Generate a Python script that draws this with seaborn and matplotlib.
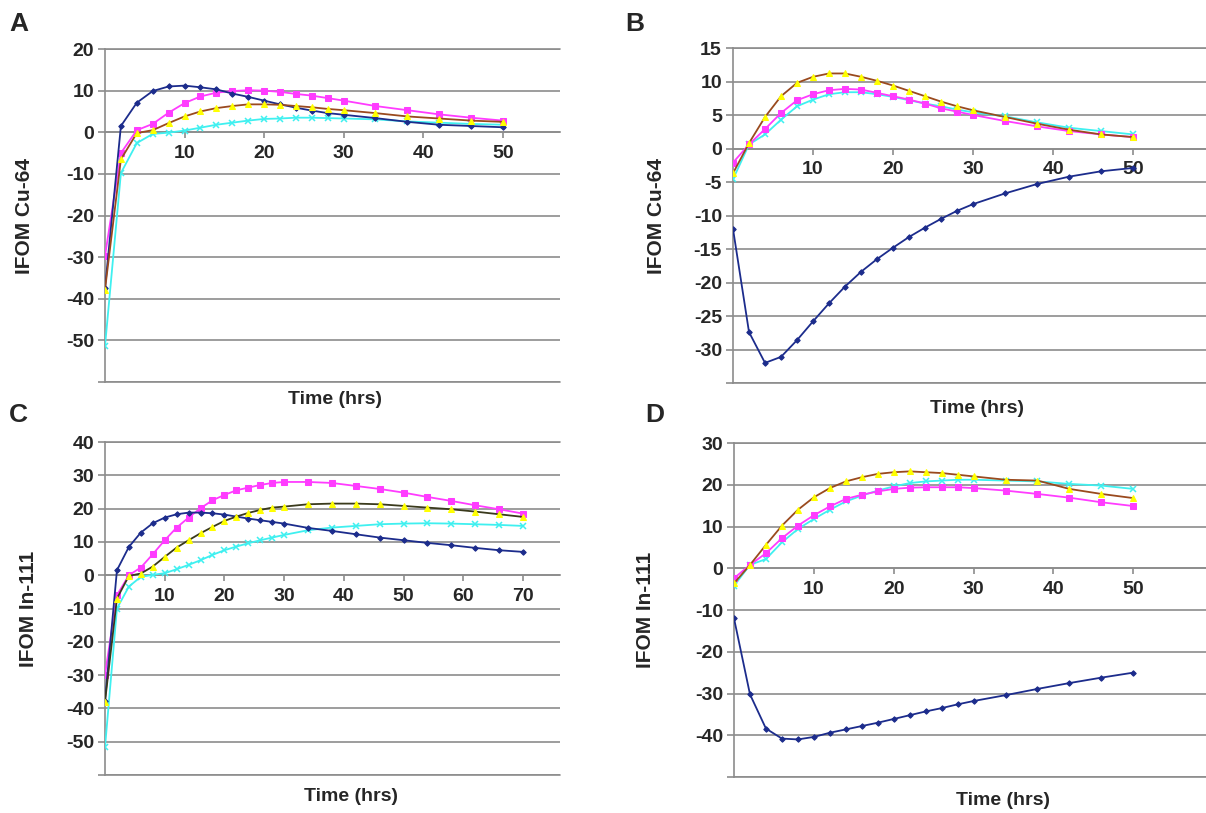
import numpy as np
import pandas as pd
import seaborn as sns
import matplotlib.pyplot as plt

sns.set_theme(style="white")
plt.rcParams['font.family'] = ['Liberation Sans', 'DejaVu Sans']
plt.rcParams['font.weight'] = 'bold'

# time points (hrs)
t50 = [0, 2, 4, 6, 8, 10, 12, 14, 16, 18, 20, 22, 24, 26, 28, 30, 34, 38, 42, 46, 50]
t70 = [0, 2, 4, 6, 8, 10, 12, 14, 16, 18, 20, 22, 24, 26, 28, 30, 34, 38, 42, 46, 50,
       54, 58, 62, 66, 70]

# panel A - IFOM Cu-64
a_blue = [-37.5, 1.5, 7.1, 9.9, 11.0, 11.2, 10.8, 10.3, 9.3, 8.5, 7.6, 6.7, 5.9, 5.2,
          4.6, 4.2, 3.4, 2.5, 1.8, 1.5, 1.2]
a_magenta = [-29.7, -5.0, 0.5, 2.0, 4.7, 7.0, 8.6, 9.5, 9.9, 10.1, 10.0, 9.7, 9.2, 8.8,
             8.2, 7.6, 6.3, 5.3, 4.3, 3.5, 2.8]
a_yellow = [-37.8, -6.5, -0.2, 0.5, 2.2, 3.8, 5.0, 5.8, 6.3, 6.7, 6.7, 6.6, 6.3, 6.0,
            5.6, 5.3, 4.6, 3.8, 3.3, 2.8, 2.5]
a_cyan = [-51.4, -9.8, -2.6, -0.4, -0.1, 0.4, 1.1, 1.8, 2.3, 2.8, 3.2, 3.3, 3.5, 3.5,
          3.4, 3.3, 3.1, 2.6, 2.3, 2.0, 1.8]

# panel B - IFOM Cu-64
b_blue = [-12.0, -27.4, -32.0, -31.1, -28.6, -25.8, -23.1, -20.6, -18.4, -16.5, -14.8,
          -13.2, -11.8, -10.5, -9.3, -8.3, -6.7, -5.3, -4.2, -3.4, -2.9]
b_magenta = [-2.1, 0.6, 2.9, 5.3, 7.2, 8.1, 8.7, 8.9, 8.8, 8.3, 7.8, 7.3, 6.7, 6.0,
             5.5, 5.0, 4.1, 3.3, 2.6, 2.1, 1.7]
b_yellow = [-3.7, 0.8, 4.7, 7.8, 9.8, 10.7, 11.2, 11.2, 10.7, 10.1, 9.4, 8.6, 7.8, 7.0,
            6.3, 5.7, 4.7, 3.7, 2.8, 2.1, 1.7]
b_cyan = [-4.6, 0.6, 2.1, 4.3, 6.3, 7.3, 8.1, 8.4, 8.4, 8.1, 7.7, 7.2, 6.7, 6.3,
          5.8, 5.4, 4.8, 3.9, 3.1, 2.6, 2.1]

# panel C - IFOM In-111
c_blue = [-37.7, 1.5, 8.5, 12.8, 15.6, 17.3, 18.3, 18.8, 18.8, 18.6, 18.2, 17.6, 17.0,
          16.5, 16.0, 15.5, 14.2, 13.3, 12.3, 11.3, 10.5, 9.7, 9.0, 8.2, 7.5, 7.0]
c_magenta = [-29.9, -6.0, 0.0, 2.3, 6.3, 10.5, 14.3, 17.3, 20.1, 22.5, 24.1, 25.5, 26.3,
             27.1, 27.7, 28.0, 28.0, 27.7, 26.8, 25.9, 24.8, 23.5, 22.3, 21.0, 19.8, 18.5]
c_yellow = [-38.0, -7.0, -0.2, 0.5, 2.6, 5.5, 8.3, 10.5, 12.6, 14.5, 16.3, 17.6, 18.7,
            19.6, 20.3, 20.6, 21.3, 21.5, 21.5, 21.3, 20.8, 20.3, 19.8, 19.1, 18.3, 17.5]
c_cyan = [-51.7, -10.0, -3.4, -0.5, 0.1, 0.6, 1.8, 3.1, 4.5, 6.1, 7.5, 8.6, 9.6,
          10.5, 11.3, 12.1, 13.5, 14.3, 14.8, 15.3, 15.5, 15.6, 15.5, 15.3, 15.1, 14.8]

# panel D - IFOM In-111
d_blue = [-12.0, -30.2, -38.4, -40.8, -41.0, -40.4, -39.4, -38.6, -37.8, -37.0, -36.1,
          -35.2, -34.3, -33.5, -32.6, -31.8, -30.4, -28.9, -27.5, -26.2, -25.0]
d_magenta = [-2.4, 0.8, 3.6, 7.2, 10.2, 12.7, 14.8, 16.6, 17.6, 18.4, 19.0, 19.3, 19.4,
             19.4, 19.4, 19.2, 18.6, 17.8, 16.9, 15.8, 14.9]
d_yellow = [-3.6, 0.8, 5.6, 10.2, 14.0, 17.0, 19.2, 20.8, 21.8, 22.6, 23.0, 23.2, 23.0,
            22.8, 22.4, 22.0, 21.2, 21.0, 19.0, 17.8, 16.8]
d_cyan = [-4.2, 0.8, 2.2, 6.2, 9.4, 11.8, 14.0, 16.0, 17.4, 18.6, 19.6, 20.4, 20.8,
          21.0, 21.2, 21.2, 21.0, 20.8, 20.2, 19.8, 19.0]

GRID = '#8c8c8c'
NAVY = '#1c2c8c'
MAGENTA = '#ff3cff'
YELLOW = '#ffff00'
CYAN = '#3ff0f0'
BROWN = '#9a4a1e'


def draw_panel(ax, t, blue, magenta, yellow, cyan, yellow_line, ylim, ystep,
               xmax, xticks, ylabel, letter, ylab_x, xlab_pos):
    df = pd.DataFrame({'t': t, 'blue': blue, 'magenta': magenta,
                       'yellow': yellow, 'cyan': cyan})
    common = dict(ax=ax, estimator=None, sort=False, legend=False, lw=1.3)
    sns.lineplot(data=df, x='t', y='blue', color=NAVY, marker='D', ms=2.8,
                 mfc=NAVY, mec=NAVY, zorder=5, **common)
    sns.lineplot(data=df, x='t', y='magenta', color=MAGENTA, marker='s', ms=3.8,
                 mfc=MAGENTA, mec=MAGENTA, zorder=4, **common)
    sns.lineplot(data=df, x='t', y='yellow', color=yellow_line, marker='^', ms=4.2,
                 mfc=YELLOW, mec=YELLOW, zorder=6, **common)
    sns.lineplot(data=df, x='t', y='cyan', color=CYAN, marker='x', ms=4,
                 mew=1.1, mec=CYAN, zorder=3, **common)

    ax.set_xlim(0, xmax)
    ax.set_ylim(*ylim)
    yt = list(range(ylim[0], ylim[1] + 1, ystep))
    ax.set_yticks(yt, [''] + [str(v) for v in yt[1:]])
    ax.set_xticks(xticks, [str(v) for v in xticks])
    ax.yaxis.grid(True, color=GRID, lw=1.2)
    ax.xaxis.grid(False)
    ax.set_axisbelow(True)
    for y in ylim:
        ax.axhline(y, color=GRID, lw=1.2, clip_on=False, zorder=0.5)

    for s in ['top', 'right']:
        ax.spines[s].set_visible(False)
    ax.spines['left'].set_color(GRID)
    ax.spines['left'].set_linewidth(1.2)
    ax.spines['bottom'].set_position(('data', 0))
    ax.spines['bottom'].set_color(GRID)
    ax.spines['bottom'].set_linewidth(1.2)

    ax.tick_params(axis='y', left=True, length=5, width=1.2, color=GRID,
                   direction='out', labelsize=14, pad=3)
    ax.tick_params(axis='x', bottom=True, length=4, width=1.2, color=GRID,
                   direction='out', labelsize=14, pad=5)
    for lab in ax.get_xticklabels() + ax.get_yticklabels():
        lab.set_fontweight('bold')

    ax.set_ylabel(ylabel, fontsize=15, fontweight='bold')
    ax.yaxis.set_label_coords(ylab_x, 0.5)
    ax.set_xlabel('Time (hrs)', fontsize=14, fontweight='bold')
    ax.xaxis.set_label_coords(*xlab_pos)
    ax.xaxis.label.set_va('center')
    ax.text(letter[1], letter[2], letter[0], transform=ax.figure.transFigure,
            fontsize=19, fontweight='bold', ha='center', va='center')


W, H = 1206, 813
fig = plt.figure(figsize=(W / 100, H / 100), dpi=100)


def rect(left, right, top, bottom):
    return [left / W, 1 - bottom / H, (right - left) / W, (bottom - top) / H]


axA = fig.add_axes(rect(105, 560, 49, 382))
axB = fig.add_axes(rect(733, 1206, 48, 383))
axC = fig.add_axes(rect(105, 560, 442, 775))
axD = fig.add_axes(rect(734, 1206, 443, 777))

draw_panel(axA, t50, a_blue, a_magenta, a_yellow, a_cyan, BROWN, (-60, 20), 10,
           57.2, [10, 20, 30, 40, 50], 'IFOM Cu-64',
           ('A', 19 / W, 1 - 24 / H), -0.156, (0.505, -0.054))
draw_panel(axB, t50, b_blue, b_magenta, b_yellow, b_cyan, BROWN, (-35, 15), 5,
           59.1, [10, 20, 30, 40, 50], 'IFOM Cu-64',
           ('B', 635 / W, 1 - 24 / H), -0.142, (0.516, -0.075))
draw_panel(axC, t70, c_blue, c_magenta, c_yellow, c_cyan, '#3a3a1c', (-60, 40), 10,
           76.2, [10, 20, 30, 40, 50, 60, 70], 'IFOM In-111',
           ('C', 18 / W, 1 - 415 / H), -0.147, (0.54, -0.066))
draw_panel(axD, t50, d_blue, d_magenta, d_yellow, d_cyan, BROWN, (-50, 30), 10,
           59.1, [10, 20, 30, 40, 50], 'IFOM In-111',
           ('D', 655 / W, 1 - 415 / H), -0.167, (0.57, -0.069))

fig.savefig('out.png', dpi=100, facecolor='white')
